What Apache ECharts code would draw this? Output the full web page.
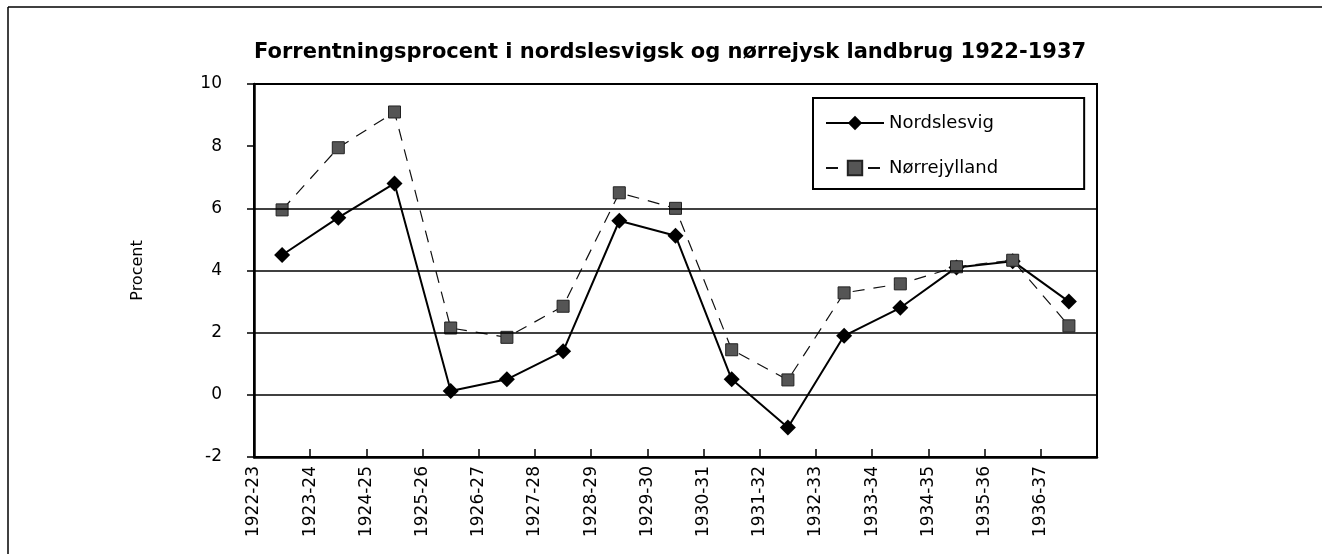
<!DOCTYPE html>
<html>
<head>
<meta charset="utf-8">
<script src="https://cdn.jsdelivr.net/npm/echarts@6/dist/echarts.min.js"></script>
<style>
html,body{margin:0;padding:0;background:#fff;}
#chart{width:1322px;height:554px;}
</style>
</head>
<body>
<div id="chart"></div>
<script>
const periods = ['1922-23','1923-24','1924-25','1925-26','1926-27','1927-28','1928-29','1929-30','1930-31','1931-32','1932-33','1933-34','1934-35','1935-36','1936-37'];
const nordslesvig = [4.5, 5.7, 6.8, 0.12, 0.5, 1.4, 5.6, 5.12, 0.5, -1.05, 1.9, 2.8, 4.1, 4.3, 3.0];
const norrejylland = [5.95, 7.95, 9.1, 2.15, 1.85, 2.85, 6.5, 6.0, 1.45, 0.48, 3.28, 3.57, 4.12, 4.33, 2.22];
const yTicks = { min: -2, max: 10, interval: 2 };
const gridLevels = [0, 2, 4, 6];
const titleText = 'Forrentningsprocent i nordslesvigsk og nørrejysk landbrug 1922-1937';
const yName = 'Procent';
const seriesNames = ['Nordslesvig', 'Nørrejylland'];

const FONT = 'DejaVu Sans';
const chart = echarts.init(document.getElementById('chart'), null, {renderer: 'canvas'});
chart.setOption({
  animation: false,
  backgroundColor: '#fff',
  title: {
    text: titleText,
    left: 254,
    top: 42,
    padding: 0,
    textStyle: {fontFamily: FONT, fontSize: 21, fontWeight: 'bold', color: '#000'}
  },
  legend: {
    data: seriesNames,
    orient: 'vertical',
    left: 813,
    top: 98,
    width: 268,
    padding: [16, 86, 12, 12],
    itemGap: 27,
    itemWidth: 58,
    itemHeight: 18,
    borderColor: '#000',
    borderWidth: 2,
    textStyle: {fontFamily: FONT, fontSize: 18, color: '#000'}
  },
  grid: {
    left: 254, top: 84, width: 843, height: 373,
    show: true, borderColor: '#000', borderWidth: 2, backgroundColor: 'transparent'
  },
  xAxis: [
    {
      type: 'category',
      data: periods,
      boundaryGap: true,
      axisLine: {show: true, onZero: false, lineStyle: {color: '#000', width: 2.5}},
      axisTick: {show: false},
      axisLabel: {show: false},
      splitLine: {show: false}
    },
    {
      type: 'category',
      data: periods.concat(['']),
      boundaryGap: false,
      position: 'bottom',
      axisLine: {show: false, onZero: false},
      axisTick: {show: true, inside: true, length: 8, lineStyle: {color: '#000', width: 1.5}},
      axisLabel: {show: true, rotate: 90, margin: 9, interval: 0, fontFamily: FONT, fontSize: 17, color: '#000'},
      splitLine: {show: false}
    }
  ],
  yAxis: {
    type: 'value',
    min: yTicks.min, max: yTicks.max, interval: yTicks.interval,
    name: yName,
    nameLocation: 'middle',
    nameGap: 108,
    nameRotate: 90,
    nameTextStyle: {fontFamily: FONT, fontSize: 16, color: '#000'},
    axisLine: {show: true, onZero: false, lineStyle: {color: '#000', width: 2.5}},
    axisTick: {show: true, length: 7, lineStyle: {color: '#000', width: 1.5}},
    axisLabel: {margin: 32, fontFamily: FONT, fontSize: 17, color: '#000'},
    splitLine: {show: false}
  },
  graphic: [
    {type: 'line', shape: {x1: 8, y1: 7, x2: 1322, y2: 7}, style: {stroke: '#000', lineWidth: 1.5}},
    {type: 'line', shape: {x1: 8, y1: 7, x2: 8, y2: 554}, style: {stroke: '#000', lineWidth: 1.5}}
  ],
  series: [
    {
      name: seriesNames[0],
      type: 'line',
      xAxisIndex: 0,
      data: nordslesvig,
      symbol: 'diamond',
      symbolSize: 16,
      itemStyle: {color: '#000'},
      lineStyle: {color: '#000', width: 2},
      z: 3,
      markLine: {
        silent: true,
        symbol: 'none',
        label: {show: false},
        lineStyle: {color: '#000', width: 1.5, type: 'solid'},
        data: gridLevels.map(v => ({yAxis: v}))
      }
    },
    {
      name: seriesNames[1],
      type: 'line',
      xAxisIndex: 0,
      data: norrejylland,
      symbol: 'rect',
      symbolSize: 12,
      itemStyle: {color: '#555', borderColor: '#222', borderWidth: 1},
      lineStyle: {color: '#111', width: 1.2, type: [12, 9]},
      z: 4
    }
  ]
});
</script>
</body>
</html>
